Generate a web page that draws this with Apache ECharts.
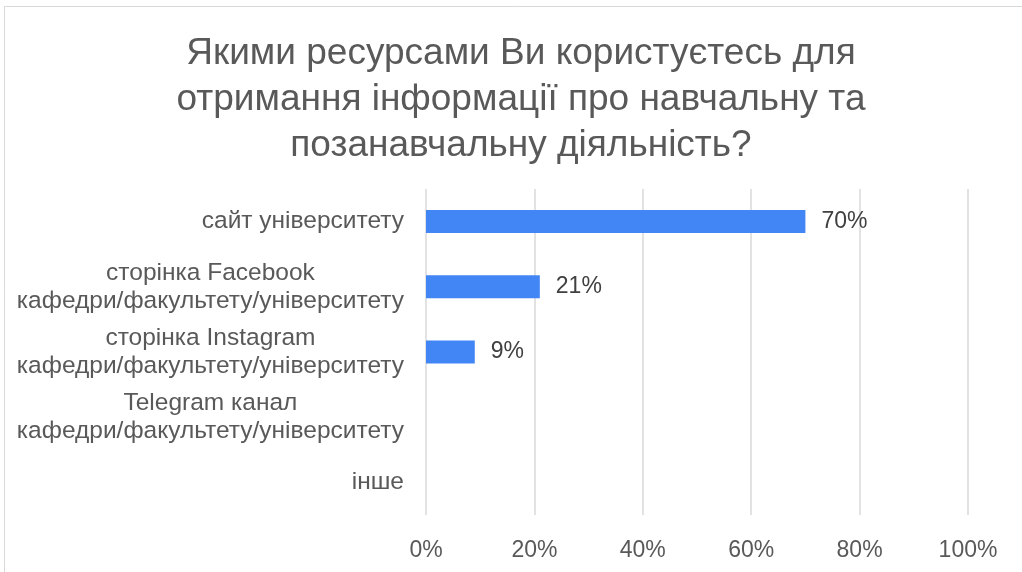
<!DOCTYPE html>
<html><head><meta charset="utf-8">
<script src="https://cdn.jsdelivr.net/npm/echarts@6/dist/echarts.min.js"></script>
<style>html,body{margin:0;padding:0;background:#fff}#c{width:1022px;height:572px}</style>
</head><body><div id="c"></div>
<script>
const titleText = 'Якими ресурсами Ви користуєтесь для\nотримання інформації про навчальну та\nпозанавчальну діяльність?';
const categories = ['сайт університету','сторінка Facebook\nкафедри/факультету/університету','сторінка Instagram\nкафедри/факультету/університету','Telegram канал\nкафедри/факультету/університету','інше'];
const values = [70, 21, 9, 0, 0];
const xTicks = [0, 20, 40, 60, 80, 100];

const FONT = 'Liberation Sans';
const chart = echarts.init(document.getElementById('c'));
chart.setOption({
  backgroundColor: '#fff',
  animation: false,
  graphic: [{type:'rect', shape:{x:4.5,y:6.5,width:1100,height:700}, style:{fill:'none',stroke:'#d9d9d9',lineWidth:1}, silent:true}],
  title: {text: titleText, left: 516, textAlign: 'center', top: 26,
    textStyle:{fontFamily:FONT, fontSize:37, fontWeight:'normal', color:'#595959', lineHeight:46}},
  grid: {left: 426, right: 54, top: 189, bottom: 57, containLabel:false},
  xAxis: {type:'value', min:0, max:100, interval:20,
    axisLine:{show:false}, axisTick:{show:false},
    splitLine:{lineStyle:{color:'#d9d9d9', width:1.5}},
    axisLabel:{formatter: v => xTicks.includes(v) ? v + '%' : '', margin:24, color:'#595959', fontFamily:FONT, fontSize:23}},
  yAxis: {type:'category', inverse:true, data: categories,
    axisLine:{show:false}, axisTick:{show:false},
    axisLabel:{margin:22, color:'#595959', fontFamily:FONT, fontSize:24.5, lineHeight:28, align:'right',
      formatter: v => v.split('\n').map(s => '{c|' + s + '}').join('\n'),
      rich:{c:{align:'center', fontFamily:FONT, fontSize:24.5, lineHeight:28, color:'#595959'}}}},
  series: [{type:'bar', data: values.map(v => v === 0 ? {value:v, label:{show:false}} : v), barWidth:23,
    itemStyle:{color:'#4285f4'},
    label:{show:true, position:'right', distance:16, formatter: p => p.value + '%', color:'#404040', fontFamily:FONT, fontSize:23}}]
});
</script></body></html>
